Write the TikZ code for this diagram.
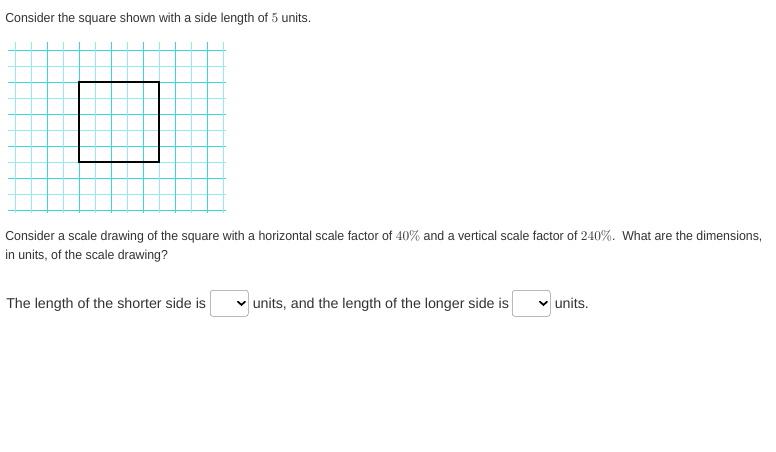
\documentclass[tikz,border=0pt]{standalone}
\usepackage[no-math]{fontspec}
\setmainfont{Liberation Sans}
\newfontfamily\qfont[FakeStretch=0.95]{Liberation Sans}
\usetikzlibrary{positioning}
\definecolor{textgray}{RGB}{51,51,51}
\definecolor{gridmajor}{RGB}{60,214,220}
\definecolor{gridminor}{RGB}{150,234,238}
\definecolor{boxgray}{RGB}{150,150,150}
\tikzset{
  qtext/.style={anchor=base west,inner sep=0pt,text=textgray,font=\qfont\fontsize{9.75pt}{11pt}\selectfont},
  atext/.style={anchor=base west,inner sep=0pt,text=textgray,font=\fontsize{10.7pt}{13pt}\selectfont},
  dropbox/.style={draw=boxgray,rounded corners=2pt,minimum width=28.5pt,minimum height=19.5pt,inner sep=0pt,anchor=north west}
}
\begin{document}
\begin{tikzpicture}[x=0.75pt,y=-0.75pt]
\useasboundingbox[fill=white] (0,0) rectangle (776,451);
\node[qtext] (intro) at (5,22) {Consider the square shown with a side length of $5$ units.};
% grid
\foreach \k in {0,1,...,10} {
  \pgfmathtruncatemacro{\yy}{50+16*\k}
  \ifodd\k \draw[gridminor,line width=0.75pt] (8,\yy) -- (226,\yy);
  \else \draw[gridmajor,line width=0.75pt] (8,\yy) -- (226,\yy); \fi
}
\foreach \k in {0,1,...,13} {
  \pgfmathtruncatemacro{\xx}{15+16*\k}
  \pgfmathtruncatemacro{\ismaj}{(mod(\k,2)==0)*(\k>0)}
  \ifnum\ismaj=1 \draw[gridmajor,line width=0.75pt] (\xx,42) -- (\xx,213);
  \else \draw[gridminor,line width=0.75pt] (\xx,42) -- (\xx,213); \fi
}
\draw[line width=1.6pt] (79,82) rectangle (159,162);
\node[qtext] (line2) at (5,240) {Consider a scale drawing of the square with a horizontal scale factor of $40\%$ and a vertical scale factor of $240\%$.\ \ What are the dimensions,};
\node[qtext] (line3) at (5,259) {in units, of the scale drawing?};
\node[atext] (ans1) at (6,308) {The length of the shorter side is};
\node[dropbox] (box1) at (210,290) {};
\node[atext] (ans2) at ([xshift=3pt]box1.east |- ans1.base) {units, and the length of the longer side is};
\node[dropbox] (box2) at (512,290) {};
\node[atext] (ans3) at ([xshift=3pt]box2.east |- ans1.base) {units.};
\foreach \b in {box1,box2}
  \draw[line width=1.3pt,line cap=round] ([xshift=-8pt,yshift=1.2pt]\b.east) -- ([xshift=-5.3pt,yshift=-1.2pt]\b.east) -- ([xshift=-2.6pt,yshift=1.2pt]\b.east);
\end{tikzpicture}
\end{document}
